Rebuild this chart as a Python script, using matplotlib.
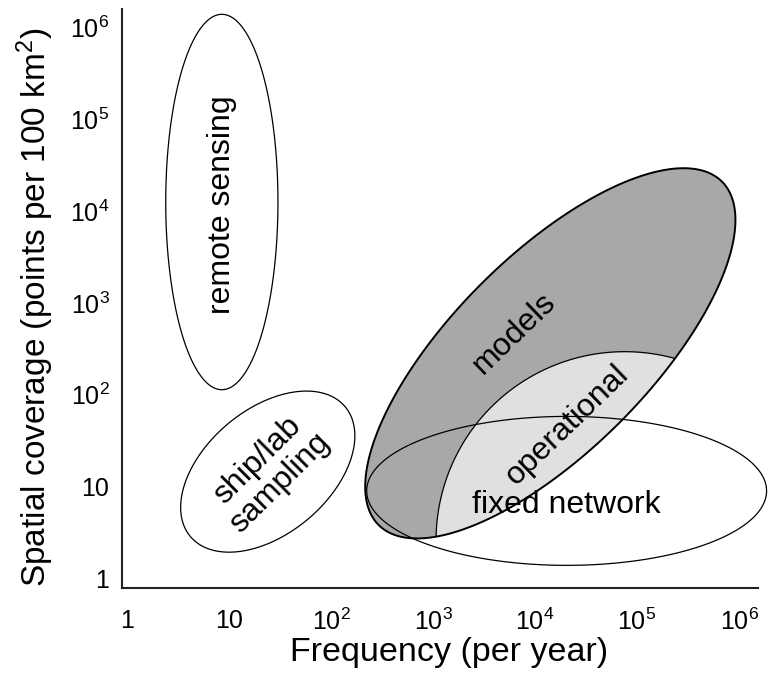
import numpy as np
import matplotlib
matplotlib.use('Agg')
import matplotlib.pyplot as plt
from matplotlib.patches import Polygon

plt.rcParams['font.family'] = ['Liberation Sans', 'DejaVu Sans']
plt.rcParams['mathtext.fontset'] = 'custom'
plt.rcParams['mathtext.rm'] = 'Liberation Sans'

# regions as ellipses in log10 space (semi-axes in decades of frequency as drawn on the page)
region_names = ['remote sensing', 'ship/lab sampling', 'models', 'operational', 'fixed network']
center_log_freq = [0.93, 1.38, 4.15, 4.88, 4.31]
center_log_cov = [4.10, 1.16, 2.45, 0.41, 0.95]
semi_major = [1.84, 0.99, 2.38, 1.85, 1.96]
semi_minor = [0.55, 0.61, 0.96, 1.85, 0.73]
tilt_deg = [90, 40, 45, 0, 0]

label_text = ['remote sensing', 'ship/lab\nsampling', 'models', 'operational', 'fixed network']
label_log_freq = [0.93, 1.39, 3.80, 4.32, 4.31]
label_log_cov = [4.07, 1.16, 2.67, 1.67, 0.80]
label_rot = [90, 45, 44, 44, 0]

tick_vals = [1, 10, 1e2, 1e3, 1e4, 1e5, 1e6]
x_tick_labels = ['1', '10', r'$\mathregular{10^2}$', r'$\mathregular{10^3}$',
                 r'$\mathregular{10^4}$', r'$\mathregular{10^5}$', r'$\mathregular{10^6}$']
y_tick_labels = x_tick_labels

xlim_log = (-0.049, 6.186)
ylim_log = (-0.109, 6.205)

fig = plt.figure(figsize=(7.73, 6.80), dpi=100)
ax = fig.add_axes([0.1578, 0.1353, 0.8228, 0.8515])
ax.set_xscale('log')
ax.set_yscale('log')
ax.set_xlim(10**xlim_log[0], 10**xlim_log[1])
ax.set_ylim(10**ylim_log[0], 10**ylim_log[1])

# how long a y decade is compared to an x decade on the page
w_in = fig.get_figwidth() * ax.get_position().width
h_in = fig.get_figheight() * ax.get_position().height
y_ratio = (h_in / (ylim_log[1] - ylim_log[0])) / (w_in / (xlim_log[1] - xlim_log[0]))


def ellipse_pts(i, n=600):
    t = np.linspace(0, 2 * np.pi, n)
    th = np.deg2rad(tilt_deg[i])
    u = semi_major[i] * np.cos(t)
    v = semi_minor[i] * np.sin(t)
    dx = u * np.cos(th) - v * np.sin(th)
    dy = u * np.sin(th) + v * np.cos(th)
    return np.column_stack([10**(center_log_freq[i] + dx), 10**(center_log_cov[i] + dy / y_ratio)])


thin = 0.9
# open ellipses
for i in [0, 1]:
    ax.add_patch(Polygon(ellipse_pts(i), closed=True, facecolor='none', edgecolor='black',
                         linewidth=thin, clip_on=False, zorder=2))

models = Polygon(ellipse_pts(2), closed=True, facecolor='#a8a8a8', edgecolor='none',
                 clip_on=False, zorder=2)
ax.add_patch(models)

oper = Polygon(ellipse_pts(3), closed=True, facecolor='#e0e0e0', edgecolor='black',
               linewidth=thin, zorder=3)
ax.add_patch(oper)
oper.set_clip_path(models)

ax.add_patch(Polygon(ellipse_pts(4), closed=True, facecolor='none', edgecolor='black',
                     linewidth=thin, clip_on=False, zorder=4))
ax.add_patch(Polygon(ellipse_pts(2), closed=True, facecolor='none', edgecolor='black',
                     linewidth=1.4, clip_on=False, zorder=5))

for txt, lx, ly, rot in zip(label_text, label_log_freq, label_log_cov, label_rot):
    ax.text(10**lx, 10**ly, txt, rotation=rot, ha='center', va='center', fontsize=23,
            rotation_mode='anchor', linespacing=1.1, multialignment='center', zorder=6)

ax.set_xticks(tick_vals)
ax.set_xticklabels(x_tick_labels)
ax.set_yticks(tick_vals)
ax.set_yticklabels(y_tick_labels)
ax.minorticks_off()
ax.tick_params(which='both', length=0, labelsize=18)
ax.tick_params(axis='x', pad=15)
ax.tick_params(axis='y', pad=9)

for s in ['top', 'right']:
    ax.spines[s].set_visible(False)
for s in ['left', 'bottom']:
    ax.spines[s].set_linewidth(1.5)
    ax.spines[s].set_color('#222222')

fig.text(449 / 773, 1 - 652 / 680, 'Frequency (per year)', ha='center', va='center', fontsize=24.5)
fig.text(35 / 773, 1 - 307 / 680, r'Spatial coverage (points per 100 km$\mathregular{^2}$)',
         ha='center', va='center', rotation=90, fontsize=24)

fig.savefig('out.png', dpi=100)
